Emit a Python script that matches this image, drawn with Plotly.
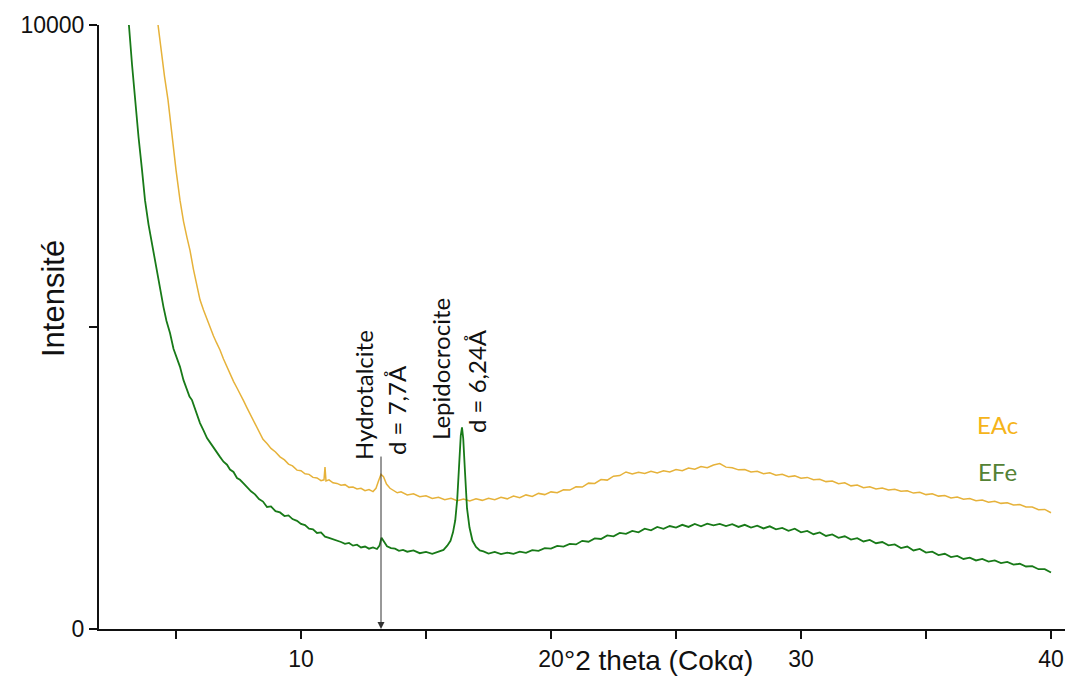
import plotly.graph_objects as go

# ---------------- data ----------------
efe_theta = [3.0, 3.12, 3.24, 3.36, 3.5, 3.64, 3.76, 3.9, 4.08, 4.22, 4.36, 4.5, 4.62, 4.76, 4.9,
             5.04, 5.16, 5.3, 5.44, 5.54, 5.64, 5.8, 5.96, 6.1, 6.24, 6.36, 6.5, 6.62, 6.76, 6.9,
             7.04, 7.16, 7.3, 7.44, 7.56, 7.7, 7.84, 8.0, 8.16, 8.32, 8.48, 8.64, 8.8, 8.98, 9.16,
             9.34, 9.5, 9.66, 9.84, 10.0, 10.16, 10.32, 10.48, 10.64, 10.8, 10.96, 11.12, 11.28,
             11.44, 11.6, 11.76, 11.92, 12.08, 12.24, 12.4, 12.56, 12.72, 12.88, 13.04, 13.14,
             13.22, 13.32, 13.44, 13.6, 13.76, 13.92, 14.08, 14.25, 14.5, 14.75, 15.0, 15.25,
             15.5, 15.7, 15.85, 15.98, 16.08, 16.17, 16.25, 16.33, 16.39, 16.44, 16.49, 16.56,
             16.64, 16.74, 16.86, 17.0, 17.15, 17.3, 17.5, 17.75, 18.0, 18.25, 18.5, 18.75, 19.0,
             19.25, 19.5, 19.75, 20.0, 20.25, 20.5, 20.75, 21.0, 21.25, 21.5, 21.75, 22.0, 22.25,
             22.5, 22.75, 23.0, 23.25, 23.5, 23.75, 24.0, 24.25, 24.5, 24.75, 25.0, 25.25, 25.5,
             25.75, 26.0, 26.25, 26.5, 26.75, 27.0, 27.25, 27.5, 27.75, 28.0, 28.25, 28.5, 28.75,
             29.0, 29.25, 29.5, 29.75, 30.0, 30.25, 30.5, 30.75, 31.0, 31.25, 31.5, 31.75, 32.0,
             32.25, 32.5, 32.75, 33.0, 33.25, 33.5, 33.75, 34.0, 34.25, 34.5, 34.75, 35.0, 35.25,
             35.5, 35.75, 36.0, 36.25, 36.5, 36.75, 37.0, 37.25, 37.5, 37.75, 38.0, 38.25, 38.5,
             38.75, 39.0, 39.25, 39.5, 39.75, 40.0]
efe_counts = [10450, 9983, 9350, 8760, 8150, 7600, 7100, 6700, 6280, 5930, 5610, 5330, 5100, 4900, 4640,
              4470, 4340, 4120, 3960, 3850, 3790, 3600, 3410, 3290, 3160, 3090, 3000, 2930, 2850, 2770,
              2720, 2640, 2600, 2500, 2470, 2410, 2350, 2280, 2230, 2150, 2110, 2020, 2030, 1950, 1930,
              1870, 1880, 1820, 1790, 1740, 1720, 1660, 1650, 1590, 1600, 1530, 1510, 1490,
              1460, 1440, 1410, 1425, 1380, 1395, 1350, 1365, 1330, 1350, 1325, 1380,
              1510, 1440, 1370, 1340, 1330, 1295, 1310, 1280, 1300, 1255, 1275, 1245,
              1280, 1310, 1380, 1460, 1600, 1800, 2150, 2750, 3200, 3340, 3150, 2600,
              2000, 1680, 1460, 1360, 1300, 1285, 1250, 1275, 1240, 1265, 1245, 1280, 1260,
              1305, 1295, 1340, 1330, 1375, 1365, 1410, 1400, 1460, 1445, 1500, 1490, 1550,
              1535, 1590, 1575, 1625, 1600, 1660, 1635, 1690, 1660, 1705, 1680, 1725, 1690,
              1740, 1700, 1745, 1715, 1740, 1705, 1735, 1690, 1725, 1680, 1710, 1665, 1700,
              1650, 1675, 1625, 1660, 1600, 1625, 1570, 1600, 1540, 1565, 1510, 1535, 1480,
              1505, 1450, 1475, 1420, 1440, 1385, 1400, 1340, 1365, 1300, 1325, 1265, 1280,
              1225, 1245, 1190, 1210, 1160, 1180, 1135, 1160, 1115, 1135, 1090, 1110, 1065,
              1080, 1035, 1040, 990, 990, 935]

eac_theta = [4.1, 4.28, 4.4, 4.54, 4.68, 4.84, 5.0, 5.16, 5.3, 5.44, 5.56, 5.7, 5.84, 5.96, 6.1,
             6.24, 6.36, 6.5, 6.62, 6.76, 6.9, 7.04, 7.16, 7.3, 7.44, 7.56, 7.7, 7.84, 8.0, 8.16,
             8.32, 8.48, 8.64, 8.8, 8.98, 9.16, 9.34, 9.5, 9.66, 9.84, 10.0, 10.16, 10.32, 10.48,
             10.64, 10.8, 10.92, 10.96, 11.0, 11.12, 11.28, 11.44, 11.6, 11.76, 11.92, 12.08,
             12.24, 12.4, 12.56, 12.72, 12.88, 13.0, 13.1, 13.2, 13.3, 13.42, 13.56, 13.7, 13.85,
             14.0, 14.25, 14.5, 14.75, 15.0, 15.25, 15.5, 15.75, 16.0, 16.25, 16.5, 16.75, 17.0,
             17.25, 17.5, 17.75, 18.0, 18.25, 18.5, 18.75, 19.0, 19.25, 19.5, 19.75, 20.0, 20.25,
             20.5, 20.75, 21.0, 21.25, 21.5, 21.75, 22.0, 22.25, 22.5, 22.75, 23.0, 23.25, 23.5,
             23.75, 24.0, 24.25, 24.5, 24.75, 25.0, 25.25, 25.5, 25.75, 26.0, 26.25, 26.5, 26.75,
             27.0, 27.25, 27.5, 27.75, 28.0, 28.25, 28.5, 28.75, 29.0, 29.25, 29.5, 29.75, 30.0,
             30.25, 30.5, 30.75, 31.0, 31.25, 31.5, 31.75, 32.0, 32.25, 32.5, 32.75, 33.0, 33.25,
             33.5, 33.75, 34.0, 34.25, 34.5, 34.75, 35.0, 35.25, 35.5, 35.75, 36.0, 36.25, 36.5,
             36.75, 37.0, 37.25, 37.5, 37.75, 38.0, 38.25, 38.5, 38.75, 39.0, 39.25, 39.5, 39.75,
             40.0]
eac_counts = [10600, 9983, 9600, 9150, 8760, 8150, 7600, 7100, 6750, 6480, 6270, 5950, 5700, 5450, 5280,
              5120, 5000, 4850, 4740, 4620, 4470, 4330, 4220, 4100, 3990, 3900, 3780, 3660, 3530, 3400,
              3260, 3140, 3070, 2990, 2930, 2850, 2800, 2730, 2700, 2630, 2620, 2570, 2560, 2510,
              2500, 2455, 2470, 2680, 2450, 2470, 2420, 2410, 2380, 2390, 2345, 2350,
              2320, 2330, 2290, 2310, 2275, 2330, 2450, 2560, 2520, 2400, 2330, 2300, 2255,
              2270, 2220, 2240, 2190, 2205, 2160, 2180, 2140, 2165, 2125, 2150, 2120, 2155,
              2130, 2165, 2140, 2180, 2155, 2200, 2175, 2220, 2195, 2245, 2225, 2270, 2255,
              2305, 2300, 2355, 2350, 2415, 2410, 2475, 2465, 2530, 2540, 2600, 2565, 2595,
              2575, 2610, 2585, 2620, 2600, 2640, 2620, 2665, 2645, 2690, 2670, 2715, 2740,
              2680, 2670, 2635, 2640, 2600, 2610, 2570, 2585, 2545, 2560, 2520, 2535, 2495,
              2510, 2470, 2480, 2440, 2450, 2405, 2420, 2370, 2385, 2340, 2355, 2320, 2335,
              2300, 2315, 2280, 2290, 2250, 2265, 2225, 2240, 2200, 2210, 2170, 2185, 2150,
              2160, 2125, 2135, 2100, 2115, 2080, 2090, 2055, 2060, 2020, 2020, 1975, 1980,
              1925]

x_tick_vals = [5, 10, 15, 20, 25, 30, 35, 40]
x_tick_text = ["", "10", "", "20", "", "30", "", "40"]
y_tick_vals = [0, 5000, 10000]
y_tick_text = ["0", "", "10000"]

series_names = ["EAc", "EFe"]
phase_labels = ["Hydrotalcite", "d = 7,7Å", "Lepidocrocite", "d = 6,24Å"]
phase_x = [12.52, 13.84, 15.56, 17.0]
phase_y = [2765, 2848, 3096, 3212]
arrow_x = 13.2
arrow_top = 2880

GOLD_LINE = "#E6B23A"
GREEN_LINE = "#187A18"
GOLD_TEXT = "#F5B41A"
GREEN_TEXT = "#548235"

fig = go.Figure()
fig.add_trace(go.Scatter(x=eac_theta, y=eac_counts, mode="lines", name=series_names[0],
                         line=dict(color=GOLD_LINE, width=1.5), showlegend=False))
fig.add_trace(go.Scatter(x=efe_theta, y=efe_counts, mode="lines", name=series_names[1],
                         line=dict(color=GREEN_LINE, width=1.8), showlegend=False))

# phase labels (rotated)
for lbl, px, py in zip(phase_labels, phase_x, phase_y):
    fig.add_annotation(x=px, y=py, xref="x", yref="y", text=lbl, showarrow=False,
                       textangle=-90, xanchor="center", yanchor="bottom",
                       font=dict(family="Lato", size=24, color="#111111"))

# arrow pointing down to the axis
fig.add_annotation(x=arrow_x, y=0, ax=arrow_x, ay=arrow_top, xref="x", yref="y",
                   axref="x", ayref="y", text="", showarrow=True, arrowhead=2,
                   arrowsize=1.4, arrowwidth=1, arrowcolor="#333333", standoff=0)

# series labels
fig.add_annotation(x=1.0, y=(629 - 424) / 604, xref="paper", yref="paper", xshift=-68,
                   text=series_names[0], showarrow=False, xanchor="center", yanchor="middle",
                   font=dict(family="Lato", size=24, color=GOLD_TEXT))
fig.add_annotation(x=1.0, y=(629 - 471) / 604, xref="paper", yref="paper", xshift=-68,
                   text=series_names[1], showarrow=False, xanchor="center", yanchor="middle",
                   font=dict(family="Lato", size=24, color=GREEN_TEXT))

# axis titles
fig.add_annotation(x=0, y=(629 - 299) / 604, xref="paper", yref="paper", xshift=-46,
                   text="Intensité", showarrow=False, textangle=-90,
                   xanchor="center", yanchor="middle",
                   font=dict(family="Liberation Sans", size=31, color="#111111"))
fig.add_annotation(x=20, y=0, xref="x", yref="paper", xshift=11, yshift=-31,
                   text="°2 theta (Cokα)", showarrow=False,
                   xanchor="left", yanchor="middle",
                   font=dict(family="Liberation Sans", size=28, color="#111111"))

fig.update_xaxes(range=[1.92, 40.56], tickmode="array", tickvals=x_tick_vals, ticktext=x_tick_text,
                 ticks="outside", ticklen=8, tickwidth=2, tickcolor="#111111",
                 showline=True, linecolor="#111111", linewidth=2, showgrid=False, zeroline=False,
                 tickfont=dict(family="Liberation Sans", size=23, color="#111111"))
fig.update_yaxes(range=[0, 10000], tickmode="array", tickvals=y_tick_vals, ticktext=y_tick_text,
                 ticks="outside", ticklen=8, tickwidth=2, tickcolor="#111111",
                 showline=True, linecolor="#111111", linewidth=2, showgrid=False, zeroline=False,
                 tickfont=dict(family="Liberation Sans", size=23, color="#111111"))

fig.update_layout(width=1071, height=678, margin=dict(l=99, r=6, t=25, b=49),
                  plot_bgcolor="white", paper_bgcolor="white")

fig.write_html("out.html", config={"displayModeBar": False},
               post_script="document.body.style.margin='0';document.body.style.overflow='hidden';")
